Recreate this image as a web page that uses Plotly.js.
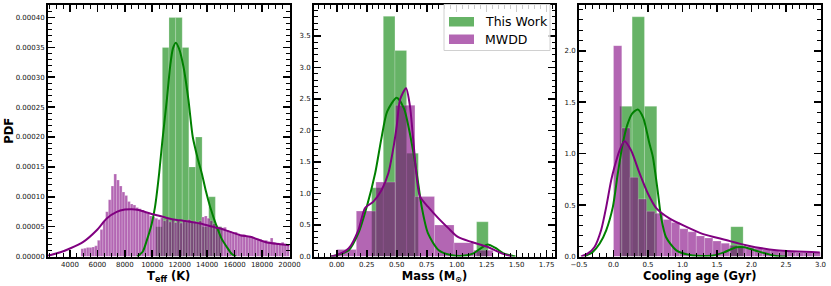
<!DOCTYPE html>
<html>
<head>
<meta charset="utf-8">
<script src="https://cdn.plot.ly/plotly-3.0.1.min.js"></script>
<style>html,body{margin:0;padding:0;background:#fff;} #chart{width:831px;height:286px;}</style>
</head>
<body>
<div id="chart"></div>
<script>
// ---------------- DATA ----------------
// Panel 1: Teff (K)
const teffThisBinLeft = [10250, 10733, 11216, 11699, 12182, 12665, 13148, 13631, 14114, 14597];
const teffThisBinWidth = 483;
const teffThisPdf = [0.00005, 0.00035, 0.00040, 0.00040, 0.00035, 0.00015, 0.00020, 0.00005, 0.00010, 0.00005];

const teffMwddBinStart = 4800;
const teffMwddBinWidth = 200;
const teffMwddPdf = [
  0.000013, 0.000014, 0.000015, 0.000015, 0.000016, 0.000018, 0.000027, 0.000045, 0.000058, 0.000075,
  0.000095, 0.000118, 0.000138, 0.000128, 0.000118, 0.000108, 0.000102, 0.000092, 0.000088, 0.000086,
  0.000082, 0.000080, 0.000078, 0.000074, 0.000072, 0.000068, 0.000066, 0.000064, 0.000062, 0.000065,
  0.000060, 0.000063, 0.000058, 0.000062, 0.000057, 0.000060, 0.000056, 0.000061, 0.000058, 0.000062,
  0.000057, 0.000059, 0.000056, 0.000060, 0.000066, 0.000068, 0.000064, 0.000060, 0.000055, 0.000052,
  0.000050, 0.000048, 0.000049, 0.000044, 0.000042, 0.000040, 0.000041, 0.000038, 0.000036, 0.000037,
  0.000033, 0.000034, 0.000031, 0.000030, 0.000028, 0.000029, 0.000026, 0.000027, 0.000025, 0.000031,
  0.000024, 0.000023, 0.000022, 0.000024, 0.000021, 0.000020
];

const teffThisKdeX = [8900, 9300, 9600, 9960, 10200, 10500, 10740, 11060, 11300, 11500, 11715, 11950, 12270, 12635, 12950, 13300, 13610, 13900, 14220, 14700, 15050, 15430, 15800, 16100];
const teffThisKdeY = [0, 0.000008, 0.000027, 0.000055, 0.000083, 0.000139, 0.000195, 0.000262, 0.000318, 0.000348, 0.000358, 0.000348, 0.000318, 0.000262, 0.000200, 0.000165, 0.000139, 0.000110, 0.000083, 0.000050, 0.000030, 0.000016, 0.000004, 0];

const teffMwddKdeX = [2400, 2540, 3300, 4000, 4970, 5950, 6680, 7410, 8000, 8500, 9000, 9840, 10330, 11000, 11790, 12270, 13490, 14700, 14950, 16410, 17140, 18360, 19200, 20000];
const teffMwddKdeY = [0.0000015, 0.0000022, 0.000007, 0.0000134, 0.0000245, 0.000044, 0.0000637, 0.0000748, 0.0000785, 0.0000792, 0.0000778, 0.000072, 0.0000692, 0.000065, 0.0000612, 0.000060, 0.0000553, 0.000048, 0.0000469, 0.0000357, 0.000033, 0.0000235, 0.000021, 0.000019];

// Panel 2: Mass (Msun)
const massThisBinLeft = [0.291, 0.388, 0.485, 0.583, 1.166];
const massThisBinWidth = 0.0972;
const massThisPdf = [1.09, 3.81, 3.27, 1.64, 0.55];

const massMwddBinStart = 0.0;
const massMwddBinWidth = 0.163;
const massMwddPdf = [0.11, 0.72, 1.18, 2.40, 0.95, 0.50, 0.22, 0.10];

const massThisKdeX = [-0.05, 0.0, 0.1, 0.18, 0.25, 0.32, 0.37, 0.42, 0.5, 0.56, 0.615, 0.667, 0.708, 0.76, 0.85, 0.96, 1.05, 1.14, 1.2, 1.26, 1.32, 1.39, 1.49];
const massThisKdeY = [0, 0.02, 0.10, 0.37, 0.79, 1.32, 1.85, 2.30, 2.52, 2.35, 1.90, 1.32, 0.79, 0.37, 0.10, 0.02, 0.01, 0.05, 0.13, 0.19, 0.14, 0.05, 0];

const massMwddKdeX = [-0.05, 0.0, 0.1, 0.18, 0.236, 0.305, 0.375, 0.43, 0.47, 0.5, 0.528, 0.578, 0.61, 0.64, 0.67, 0.694, 0.76, 0.85, 0.93, 1.01, 1.125, 1.26, 1.375, 1.46];
const massMwddKdeY = [0, 0.02, 0.13, 0.42, 0.77, 0.87, 1.06, 1.32, 1.70, 2.07, 2.49, 2.67, 2.39, 1.80, 1.20, 0.95, 0.79, 0.60, 0.45, 0.31, 0.23, 0.15, 0.05, 0];

// Panel 3: Cooling age (Gyr)
const ageThisBinLeft = [0.091, 0.270, 0.449, 1.700];
const ageThisBinWidth = 0.1787;
const ageThisPdf = [1.46, 2.33, 1.46, 0.29];

const ageMwddBinStart = 0.0;
const ageMwddBinWidth = 0.12;
const ageMwddPdf = [2.05, 1.25, 0.77, 0.56, 0.44, 0.42, 0.36, 0.33, 0.27, 0.24, 0.20, 0.18, 0.15, 0.13, 0.11, 0.10, 0.09, 0.08, 0.07, 0.06, 0.05, 0.05, 0.04, 0.04, 0.04];

const ageThisKdeX = [-0.42, -0.3, -0.2, -0.106, -0.01, 0.063, 0.135, 0.2, 0.27, 0.352, 0.43, 0.52, 0.57, 0.64, 0.69, 0.76, 0.91, 1.15, 1.44, 1.6, 1.78, 1.9, 2.0, 2.12, 2.36, 2.5];
const ageThisKdeY = [0, 0.045, 0.126, 0.255, 0.48, 0.81, 1.10, 1.28, 1.39, 1.43, 1.35, 1.10, 0.97, 0.64, 0.38, 0.19, 0.06, 0.01, 0.01, 0.04, 0.09, 0.09, 0.07, 0.045, 0.005, 0];

const ageMwddKdeX = [-0.47, -0.37, -0.275, -0.18, -0.106, -0.034, 0.014, 0.087, 0.16, 0.256, 0.377, 0.5, 0.62, 0.81, 1.05, 1.29, 1.63, 1.92, 2.36, 2.99];
const ageMwddKdeY = [0, 0.03, 0.093, 0.255, 0.48, 0.74, 0.87, 1.03, 1.12, 1.03, 0.81, 0.61, 0.47, 0.37, 0.29, 0.22, 0.16, 0.11, 0.06, 0.04];

const seriesNames = ['This Work', 'MWDD'];
const xTitles = ['<b>T<sub>eff</sub> (K)</b>', '<b>Mass (M<sub>⊙</sub>)</b>', '<b>Cooling age (Gyr)</b>'];
const yTitle = '<b>PDF</b>';

// ---------------- STYLE ----------------
const GREEN = '#008000', PURPLE = '#800080';
const GREEN_FILL = 'rgba(0,128,0,0.6)', PURPLE_FILL = 'rgba(128,0,128,0.6)';
const FONT = 'DejaVu Sans';

function centersFromLeft(lefts, w) { return lefts.map(v => v + w / 2); }
function centersFromStart(start, w, n) { const c = []; for (let i = 0; i < n; i++) c.push(start + w * (i + 0.5)); return c; }

function barTrace(x, y, w, color, name, ax) {
  return {type: 'bar', x: x, y: y, width: w, name: name, showlegend: false, hoverinfo: 'skip',
    marker: {color: color, line: {color: 'rgba(255,255,255,0.35)', width: 0.6}},
    xaxis: 'x' + ax, yaxis: 'y' + ax};
}
function lineTrace(x, y, color, name, ax) {
  return {type: 'scatter', mode: 'lines', x: x, y: y, name: name, showlegend: false, hoverinfo: 'skip',
    line: {color: color, width: 2, shape: 'spline', smoothing: 0.7}, xaxis: 'x' + ax, yaxis: 'y' + ax};
}

const data = [
  barTrace(centersFromLeft(teffThisBinLeft, teffThisBinWidth), teffThisPdf, teffThisBinWidth, GREEN_FILL, seriesNames[0], ''),
  barTrace(centersFromStart(teffMwddBinStart, teffMwddBinWidth, teffMwddPdf.length), teffMwddPdf, teffMwddBinWidth, PURPLE_FILL, seriesNames[1], ''),
  lineTrace(teffThisKdeX, teffThisKdeY, GREEN, seriesNames[0], ''),
  lineTrace(teffMwddKdeX, teffMwddKdeY, PURPLE, seriesNames[1], ''),

  barTrace(centersFromLeft(massThisBinLeft, massThisBinWidth), massThisPdf, massThisBinWidth, GREEN_FILL, seriesNames[0], '2'),
  barTrace(centersFromStart(massMwddBinStart, massMwddBinWidth, massMwddPdf.length), massMwddPdf, massMwddBinWidth, PURPLE_FILL, seriesNames[1], '2'),
  lineTrace(massThisKdeX, massThisKdeY, GREEN, seriesNames[0], '2'),
  lineTrace(massMwddKdeX, massMwddKdeY, PURPLE, seriesNames[1], '2'),

  barTrace(centersFromLeft(ageThisBinLeft, ageThisBinWidth), ageThisPdf, ageThisBinWidth, GREEN_FILL, seriesNames[0], '3'),
  barTrace(centersFromStart(ageMwddBinStart, ageMwddBinWidth, ageMwddPdf.length), ageMwddPdf, ageMwddBinWidth, PURPLE_FILL, seriesNames[1], '3'),
  lineTrace(ageThisKdeX, ageThisKdeY, GREEN, seriesNames[0], '3'),
  lineTrace(ageMwddKdeX, ageMwddKdeY, PURPLE, seriesNames[1], '3'),
];

const W = 831, H = 286;
const px = v => v / W;
const py = v => 1 - v / H;
const yDomain = [py(256.5), py(5)];

function axis(extra) {
  return Object.assign({
    showline: true, linewidth: 2, linecolor: 'black', mirror: 'allticks',
    ticks: 'inside', ticklen: 7, tickwidth: 1.6, tickcolor: 'black',
    showgrid: false, zeroline: false, fixedrange: true, automargin: false,
    tickfont: {family: FONT, size: 7, color: '#111'},
  }, extra);
}
function minor(d) { return {dtick: d, ticks: 'inside', ticklen: 3.5, tickwidth: 1, tickcolor: 'black', showgrid: false}; }
const titleFont = {family: FONT, size: 11.5, color: 'black'};

const layout = {
  width: W, height: H, margin: {l: 0, r: 0, t: 0, b: 0},
  paper_bgcolor: 'white', plot_bgcolor: 'white',
  barmode: 'overlay', bargap: 0, showlegend: false,
  font: {family: FONT},
  xaxis: axis({domain: [px(48), px(289.5)], range: [2400, 20000], tick0: 0, dtick: 2000, tickformat: 'd', minor: minor(500), anchor: 'y',
    title: {text: xTitles[0], font: titleFont, standoff: 1}}),
  yaxis: axis({domain: yDomain, range: [0, 0.000421], tick0: 0, dtick: 0.00005, tickformat: '.5f', minor: minor(0.00001), anchor: 'x',
    title: {text: yTitle, font: titleFont, standoff: 0}}),
  xaxis2: axis({domain: [px(314), px(555)], range: [-0.19, 1.82], tick0: 0, dtick: 0.25, tickformat: '.2f', minor: minor(0.05), anchor: 'y2',
    title: {text: xTitles[1], font: titleFont, standoff: 1}}),
  yaxis2: axis({domain: yDomain, range: [0, 3.99], tick0: 0, dtick: 0.5, tickformat: '.1f', minor: minor(0.1), anchor: 'x2'}),
  xaxis3: axis({domain: [px(579), px(820.5)], range: [-0.5, 3.0], tick0: 0, dtick: 0.5, tickformat: '.1f', minor: minor(0.1), anchor: 'y3',
    title: {text: xTitles[2], font: titleFont, standoff: 1}}),
  yaxis3: axis({domain: yDomain, range: [0, 2.445], tick0: 0, dtick: 0.5, tickformat: '.1f', minor: minor(0.1), anchor: 'x3'}),
  shapes: [
    {type: 'rect', xref: 'paper', yref: 'paper', x0: px(444), x1: px(550), y0: py(50.5), y1: py(4.5),
      line: {color: '#d0d0d0', width: 1}, fillcolor: 'rgba(255,255,255,0.8)', layer: 'above'},
    {type: 'rect', xref: 'paper', yref: 'paper', x0: px(449), x1: px(474), y0: py(26.5), y1: py(17),
      line: {width: 0}, fillcolor: GREEN_FILL, layer: 'above'},
    {type: 'rect', xref: 'paper', yref: 'paper', x0: px(449), x1: px(474), y0: py(44), y1: py(34.5),
      line: {width: 0}, fillcolor: PURPLE_FILL, layer: 'above'},
  ],
  annotations: [
    {xref: 'paper', yref: 'paper', x: px(483), y: py(21.5), xanchor: 'left', yanchor: 'middle', showarrow: false,
      text: seriesNames[0], font: {family: FONT, size: 12.5, color: 'black'}},
    {xref: 'paper', yref: 'paper', x: px(483), y: py(39.5), xanchor: 'left', yanchor: 'middle', showarrow: false,
      text: seriesNames[1], font: {family: FONT, size: 12.5, color: 'black'}},
  ],
};

Plotly.newPlot('chart', data, layout, {staticPlot: true, displayModeBar: false});
</script>
</body>
</html>
